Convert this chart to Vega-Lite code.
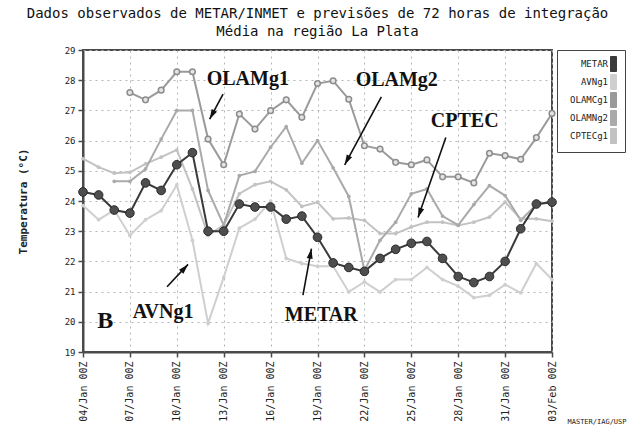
{
  "$schema": "https://vega.github.io/schema/vega-lite/v6.json",
  "width": 469,
  "height": 302,
  "autosize": {"type": "none"},
  "padding": {"left": 83, "top": 50, "right": 77, "bottom": 76},
  "background": "white",
  "config": {
    "view": {"stroke": "#4a4a4a", "strokeWidth": 2},
    "axis": {"gridColor": "#b5b5b5", "gridDash": [2, 4], "gridWidth": 1, "domainColor": "#4a4a4a", "domainWidth": 2, "tickColor": "#4a4a4a", "tickWidth": 1.5, "labelColor": "#222", "titleColor": "#222"}
  },
  "title": {
    "text": ["Dados observados de METAR/INMET e previsões de 72 horas de integração", "Média na região La Plata"],
    "font": "DejaVu Sans Mono",
    "fontSize": 14,
    "fontWeight": "normal",
    "color": "#111",
    "anchor": "middle",
    "frame": "group",
    "offset": 7,
    "lineHeight": 18
  },
  "datasets": {
    "obs": [
      {"date": "2000-01-04", "METAR": 24.3, "AVNg1": 23.85, "CPTECg1": 25.4, "OLAMNg2": null, "OLAMCg1": null},
      {"date": "2000-01-05", "METAR": 24.2, "AVNg1": 23.38, "CPTECg1": 25.12, "OLAMNg2": null, "OLAMCg1": null},
      {"date": "2000-01-06", "METAR": 23.7, "AVNg1": 23.7, "CPTECg1": 24.92, "OLAMNg2": 24.65, "OLAMCg1": null},
      {"date": "2000-01-07", "METAR": 23.6, "AVNg1": 22.86, "CPTECg1": 24.95, "OLAMNg2": 24.65, "OLAMCg1": 27.59},
      {"date": "2000-01-08", "METAR": 24.6, "AVNg1": 23.38, "CPTECg1": 25.23, "OLAMNg2": 25.06, "OLAMCg1": 27.35},
      {"date": "2000-01-09", "METAR": 24.35, "AVNg1": 23.68, "CPTECg1": 25.45, "OLAMNg2": 26.05, "OLAMCg1": 27.67},
      {"date": "2000-01-10", "METAR": 25.2, "AVNg1": 24.53, "CPTECg1": 25.69, "OLAMNg2": 27.0, "OLAMCg1": 28.28},
      {"date": "2000-01-11", "METAR": 25.6, "AVNg1": 22.7, "CPTECg1": 24.4, "OLAMNg2": 27.0, "OLAMCg1": 28.28},
      {"date": "2000-01-12", "METAR": 23.0, "AVNg1": 19.95, "CPTECg1": 22.86, "OLAMNg2": 24.35, "OLAMCg1": 26.05},
      {"date": "2000-01-13", "METAR": 23.0, "AVNg1": 21.47, "CPTECg1": 23.2, "OLAMNg2": 23.2, "OLAMCg1": 25.2},
      {"date": "2000-01-14", "METAR": 23.9, "AVNg1": 23.1, "CPTECg1": 24.24, "OLAMNg2": 24.84, "OLAMCg1": 26.88},
      {"date": "2000-01-15", "METAR": 23.8, "AVNg1": 23.4, "CPTECg1": 24.54, "OLAMNg2": 24.98, "OLAMCg1": 26.38},
      {"date": "2000-01-16", "METAR": 23.8, "AVNg1": 24.0, "CPTECg1": 24.65, "OLAMNg2": 25.78, "OLAMCg1": 26.99},
      {"date": "2000-01-17", "METAR": 23.4, "AVNg1": 22.1, "CPTECg1": 24.37, "OLAMNg2": 26.46, "OLAMCg1": 27.35},
      {"date": "2000-01-18", "METAR": 23.5, "AVNg1": 21.93, "CPTECg1": 23.82, "OLAMNg2": 25.25, "OLAMCg1": 26.77},
      {"date": "2000-01-19", "METAR": 22.8, "AVNg1": 21.84, "CPTECg1": 23.96, "OLAMNg2": 26.0, "OLAMCg1": 27.89},
      {"date": "2000-01-20", "METAR": 21.95, "AVNg1": 21.84, "CPTECg1": 23.41, "OLAMNg2": 25.1, "OLAMCg1": 27.98},
      {"date": "2000-01-21", "METAR": 21.8, "AVNg1": 20.99, "CPTECg1": 23.44, "OLAMNg2": 24.15, "OLAMCg1": 27.37},
      {"date": "2000-01-22", "METAR": 21.67, "AVNg1": 21.32, "CPTECg1": 23.36, "OLAMNg2": 21.7, "OLAMCg1": 25.83},
      {"date": "2000-01-23", "METAR": 22.1, "AVNg1": 20.99, "CPTECg1": 22.92, "OLAMNg2": 22.7, "OLAMCg1": 25.72},
      {"date": "2000-01-24", "METAR": 22.4, "AVNg1": 21.4, "CPTECg1": 22.92, "OLAMNg2": 23.3, "OLAMCg1": 25.28},
      {"date": "2000-01-25", "METAR": 22.6, "AVNg1": 21.4, "CPTECg1": 23.14, "OLAMNg2": 24.24, "OLAMCg1": 25.2},
      {"date": "2000-01-26", "METAR": 22.66, "AVNg1": 21.8, "CPTECg1": 23.3, "OLAMNg2": 24.4, "OLAMCg1": 25.36},
      {"date": "2000-01-27", "METAR": 22.1, "AVNg1": 21.4, "CPTECg1": 23.3, "OLAMNg2": 23.5, "OLAMCg1": 24.8},
      {"date": "2000-01-28", "METAR": 21.5, "AVNg1": 21.18, "CPTECg1": 23.19, "OLAMNg2": 23.2, "OLAMCg1": 24.8},
      {"date": "2000-01-29", "METAR": 21.3, "AVNg1": 20.8, "CPTECg1": 23.3, "OLAMNg2": 23.88, "OLAMCg1": 24.6},
      {"date": "2000-01-30", "METAR": 21.5, "AVNg1": 20.88, "CPTECg1": 23.47, "OLAMNg2": 24.51, "OLAMCg1": 25.58},
      {"date": "2000-01-31", "METAR": 22.0, "AVNg1": 21.23, "CPTECg1": 23.96, "OLAMNg2": 24.18, "OLAMCg1": 25.5},
      {"date": "2000-02-01", "METAR": 23.08, "AVNg1": 20.96, "CPTECg1": 23.41, "OLAMNg2": 23.36, "OLAMCg1": 25.38},
      {"date": "2000-02-02", "METAR": 23.9, "AVNg1": 21.93, "CPTECg1": 23.41, "OLAMNg2": 23.88, "OLAMCg1": 26.1},
      {"date": "2000-02-03", "METAR": 23.96, "AVNg1": 21.4, "CPTECg1": 23.33, "OLAMNg2": 23.96, "OLAMCg1": 26.9}
    ],
    "arrows": [
      {"label": "OLAMg1", "date": "2000-01-12T02:24Z", "t": 26.71, "date2": "2000-01-12T23:00Z", "t2": 27.54},
      {"label": "OLAMg2", "date": "2000-01-20T17:45Z", "t": 25.2, "date2": "2000-01-23T02:00Z", "t2": 27.45},
      {"label": "CPTEC", "date": "2000-01-25T10:20Z", "t": 23.45, "date2": "2000-01-27T05:00Z", "t2": 26.1},
      {"label": "METAR", "date": "2000-01-18T14:40Z", "t": 22.42, "date2": "2000-01-18T01:40Z", "t2": 20.88},
      {"label": "AVNg1", "date": "2000-01-10T17:15Z", "t": 21.9, "date2": "2000-01-09T09:00Z", "t2": 21.16}
    ],
    "notes": [
      {"label": "OLAMg1", "date": "2000-01-14T13:00Z", "t": 28.04},
      {"label": "OLAMg2", "date": "2000-01-24T01:40Z", "t": 28.0},
      {"label": "CPTEC", "date": "2000-01-28T10:00Z", "t": 26.66},
      {"label": "METAR", "date": "2000-01-19T05:45Z", "t": 20.22},
      {"label": "AVNg1", "date": "2000-01-09T03:00Z", "t": 20.33},
      {"label": "B", "date": "2000-01-05T10:20Z", "t": 20.03}
    ]
  },
  "encoding": {
    "x": {
      "field": "date",
      "type": "temporal",
      "scale": {
        "type": "utc",
        "nice": false,
        "domain": [{"year": 2000, "month": "jan", "date": 4, "utc": true}, {"year": 2000, "month": "feb", "date": 3, "utc": true}]
      },
      "axis": {
        "values": [
          {"year": 2000, "month": "jan", "date": 4, "utc": true},
          {"year": 2000, "month": "jan", "date": 7, "utc": true},
          {"year": 2000, "month": "jan", "date": 10, "utc": true},
          {"year": 2000, "month": "jan", "date": 13, "utc": true},
          {"year": 2000, "month": "jan", "date": 16, "utc": true},
          {"year": 2000, "month": "jan", "date": 19, "utc": true},
          {"year": 2000, "month": "jan", "date": 22, "utc": true},
          {"year": 2000, "month": "jan", "date": 25, "utc": true},
          {"year": 2000, "month": "jan", "date": 28, "utc": true},
          {"year": 2000, "month": "jan", "date": 31, "utc": true},
          {"year": 2000, "month": "feb", "date": 3, "utc": true}
        ],
        "labelExpr": "utcFormat(datum.value, '%d/%b 00Z')",
        "labelAngle": 270,
        "labelFont": "DejaVu Sans Mono",
        "labelFontSize": 10,
        "labelPadding": 4,
        "labelFlush": false,
        "labelBound": false,
        "labelOverlap": false,
        "tickSize": 5,
        "grid": true,
        "title": "MASTER/IAG/USP",
        "titleFont": "DejaVu Sans Mono",
        "titleFontSize": 7,
        "titleFontWeight": "normal",
        "titleAngle": 0,
        "titleAlign": "left",
        "titleBaseline": "middle",
        "titleX": 484,
        "titleY": 69
      }
    },
    "y": {
      "field": "t",
      "type": "quantitative",
      "scale": {"domain": [19, 29], "nice": false, "zero": false},
      "axis": {
        "values": [19, 20, 21, 22, 23, 24, 25, 26, 27, 28, 29],
        "title": "Temperatura (°C)",
        "titleFont": "DejaVu Sans Mono",
        "titleFontSize": 11,
        "titleFontWeight": "bold",
        "titlePadding": 36,
        "labelFont": "DejaVu Sans Mono",
        "labelFontSize": 9,
        "labelPadding": 3,
        "tickSize": 5,
        "grid": true
      }
    }
  },
  "layer": [
    {
      "data": {"name": "obs"},
      "transform": [
        {"fold": ["AVNg1", "CPTECg1", "OLAMNg2", "OLAMCg1"], "as": ["series", "t"]},
        {"filter": "isValid(datum.t)"}
      ],
      "mark": {"type": "line", "strokeWidth": 2},
      "encoding": {
        "color": {
          "field": "series",
          "type": "nominal",
          "scale": {"domain": ["METAR", "AVNg1", "OLAMCg1", "OLAMNg2", "CPTECg1"], "range": ["#3a3a3a", "#cfcfcf", "#9a9a9a", "#aaaaaa", "#c2c2c2"]},
          "legend": {
            "title": null,
            "orient": "none",
            "legendX": 474,
            "legendY": 0,
            "direction": "vertical",
            "symbolType": "M-0.4,-1H0.4V1H-0.4Z",
            "symbolSize": 225,
            "symbolStrokeWidth": 1,
            "symbolStrokeColor": "#333",
            "symbolOffset": 42.5,
            "labelFont": "DejaVu Sans Mono",
            "labelFontSize": 9,
            "labelColor": "#222",
            "labelAlign": "right",
            "labelOffset": -13.5,
            "rowPadding": -2.5,
            "padding": 6,
            "strokeColor": "#444",
            "fillColor": "white",
            "encode": {
              "symbols": {"update": {"fill": {"scale": "color", "field": "value"}, "fillOpacity": {"value": 1}, "stroke": {"value": "#333"}, "strokeWidth": {"value": 1}}}
            }
          }
        }
      }
    },
    {
      "data": {"name": "obs"},
      "transform": [
        {"fold": ["AVNg1", "CPTECg1", "OLAMNg2"], "as": ["series", "t"]},
        {"filter": "isValid(datum.t)"}
      ],
      "mark": {"type": "point", "filled": true, "size": 14, "opacity": 1},
      "encoding": {
        "color": {"field": "series", "type": "nominal", "legend": null}
      }
    },
    {
      "data": {"name": "obs"},
      "transform": [
        {"fold": ["OLAMCg1"], "as": ["series", "t"]},
        {"filter": "isValid(datum.t)"}
      ],
      "mark": {"type": "point", "shape": "circle", "filled": true, "fill": "#e4e4e4", "stroke": "#8c8c8c", "strokeWidth": 1.5, "size": 32, "opacity": 1}
    },
    {
      "data": {"name": "obs"},
      "transform": [{"fold": ["METAR"], "as": ["series", "t"]}],
      "mark": {"type": "line", "color": "#3a3a3a", "strokeWidth": 2}
    },
    {
      "data": {"name": "obs"},
      "transform": [{"fold": ["METAR"], "as": ["series", "t"]}],
      "mark": {"type": "point", "shape": "circle", "filled": true, "fill": "#4e4e4e", "stroke": "#2a2a2a", "strokeWidth": 1, "size": 75, "opacity": 1}
    },
    {
      "data": {"name": "arrows"},
      "mark": {"type": "rule", "color": "#111", "strokeWidth": 1.6},
      "encoding": {
        "x2": {"field": "date2"},
        "y2": {"field": "t2"}
      }
    },
    {
      "data": {"name": "arrows"},
      "transform": [{"filter": "datum.label === 'OLAMg1'"}],
      "mark": {"type": "point", "shape": "M0,0L0.6,2L-0.6,2Z", "filled": true, "color": "#111", "size": 100, "angle": 208, "opacity": 1}
    },
    {
      "data": {"name": "arrows"},
      "transform": [{"filter": "datum.label === 'OLAMg2'"}],
      "mark": {"type": "point", "shape": "M0,0L0.6,2L-0.6,2Z", "filled": true, "color": "#111", "size": 100, "angle": 208, "opacity": 1}
    },
    {
      "data": {"name": "arrows"},
      "transform": [{"filter": "datum.label === 'CPTEC'"}],
      "mark": {"type": "point", "shape": "M0,0L0.6,2L-0.6,2Z", "filled": true, "color": "#111", "size": 100, "angle": 199, "opacity": 1}
    },
    {
      "data": {"name": "arrows"},
      "transform": [{"filter": "datum.label === 'METAR'"}],
      "mark": {"type": "point", "shape": "M0,0L0.6,2L-0.6,2Z", "filled": true, "color": "#111", "size": 100, "angle": 10, "opacity": 1}
    },
    {
      "data": {"name": "arrows"},
      "transform": [{"filter": "datum.label === 'AVNg1'"}],
      "mark": {"type": "point", "shape": "M0,0L0.6,2L-0.6,2Z", "filled": true, "color": "#111", "size": 100, "angle": 43, "opacity": 1}
    },
    {
      "data": {"name": "notes"},
      "transform": [{"filter": "datum.label !== 'B'"}],
      "mark": {"type": "text", "font": "Liberation Serif", "fontWeight": "bold", "fontSize": 20, "color": "#111", "align": "center", "baseline": "middle"},
      "encoding": {"text": {"field": "label"}}
    },
    {
      "data": {"name": "notes"},
      "transform": [{"filter": "datum.label === 'B'"}],
      "mark": {"type": "text", "font": "Liberation Serif", "fontWeight": "bold", "fontSize": 24, "color": "#111", "align": "center", "baseline": "middle"},
      "encoding": {"text": {"field": "label"}}
    }
  ]
}
